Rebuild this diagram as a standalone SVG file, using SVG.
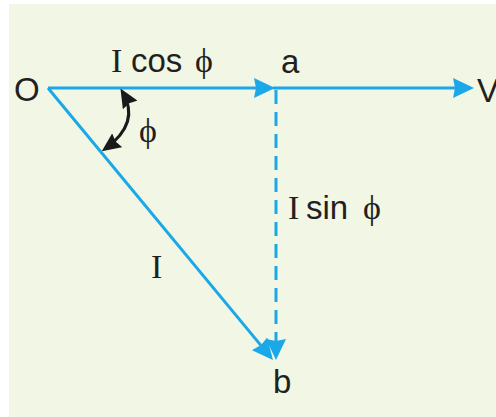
<svg xmlns="http://www.w3.org/2000/svg" width="496" height="417" viewBox="0 0 496 417">
  <style>
    .vec { stroke: #1aa8e8; stroke-width: 3; fill: none; }
    .dash { stroke-dasharray: 14 8; }
    .arc { stroke: #1a1a1a; stroke-width: 3; fill: none; }
    .sans { font-family: "Liberation Sans", Arial, sans-serif; font-size: 33px; fill: #231f20; }
    .serif { font-family: "Liberation Serif", "Times New Roman", serif; font-size: 34px; fill: #231f20; }
  </style>
  <defs>
    <marker id="blueHead" viewBox="0 0 21 20" refX="17" refY="10" markerWidth="21" markerHeight="20" markerUnits="userSpaceOnUse" orient="auto">
      <path d="M0,0 L21,10 L0,20 L2,10 Z" fill="#1aa8e8"/>
    </marker>
    <marker id="blackHead" viewBox="0 0 19 17" refX="15" refY="8.5" markerWidth="19" markerHeight="17" markerUnits="userSpaceOnUse" orient="auto-start-reverse">
      <path d="M0,0 L19,8.5 L0,17 L2,8.5 Z" fill="#1a1a1a"/>
    </marker>
  </defs>
  <rect x="9" y="4" width="487" height="413" fill="#f1f7e4"/>

  <g id="connectors">
    <path id="Oa" class="vec" d="M48,88 L271,88" marker-end="url(#blueHead)"/>
    <path id="aV" class="vec" d="M273,88 L470,88" marker-end="url(#blueHead)"/>
    <path id="Ob" class="vec" d="M48,88 L270.4,356.9" marker-end="url(#blueHead)"/>
    <path id="ab" class="vec dash" d="M276,90 L276,356" marker-end="url(#blueHead)"/>
    <path id="phiArc" class="arc" d="M122.5,92 Q141,123 105,149" marker-start="url(#blackHead)" marker-end="url(#blackHead)"/>
  </g>

  <g id="node-O"><text class="sans" x="14" y="101">O</text></g>
  <g id="node-a"><text class="sans" x="281" y="73">a</text></g>
  <g id="node-V"><text class="sans" x="477" y="102">V</text></g>
  <g id="node-b"><text class="sans" x="273" y="393">b</text></g>

  <g id="label-Icos"><text class="serif" x="111" y="72">I<tspan class="sans" x="131">cos</tspan><tspan x="195">ϕ</tspan></text></g>
  <g id="label-phi"><text class="serif" x="139" y="142">ϕ</text></g>
  <g id="label-Isin"><text class="serif" x="288" y="219">I<tspan class="sans" x="306">sin</tspan><tspan x="363">ϕ</tspan></text></g>
  <g id="label-I"><text class="serif" x="151" y="278">I</text></g>
</svg>
